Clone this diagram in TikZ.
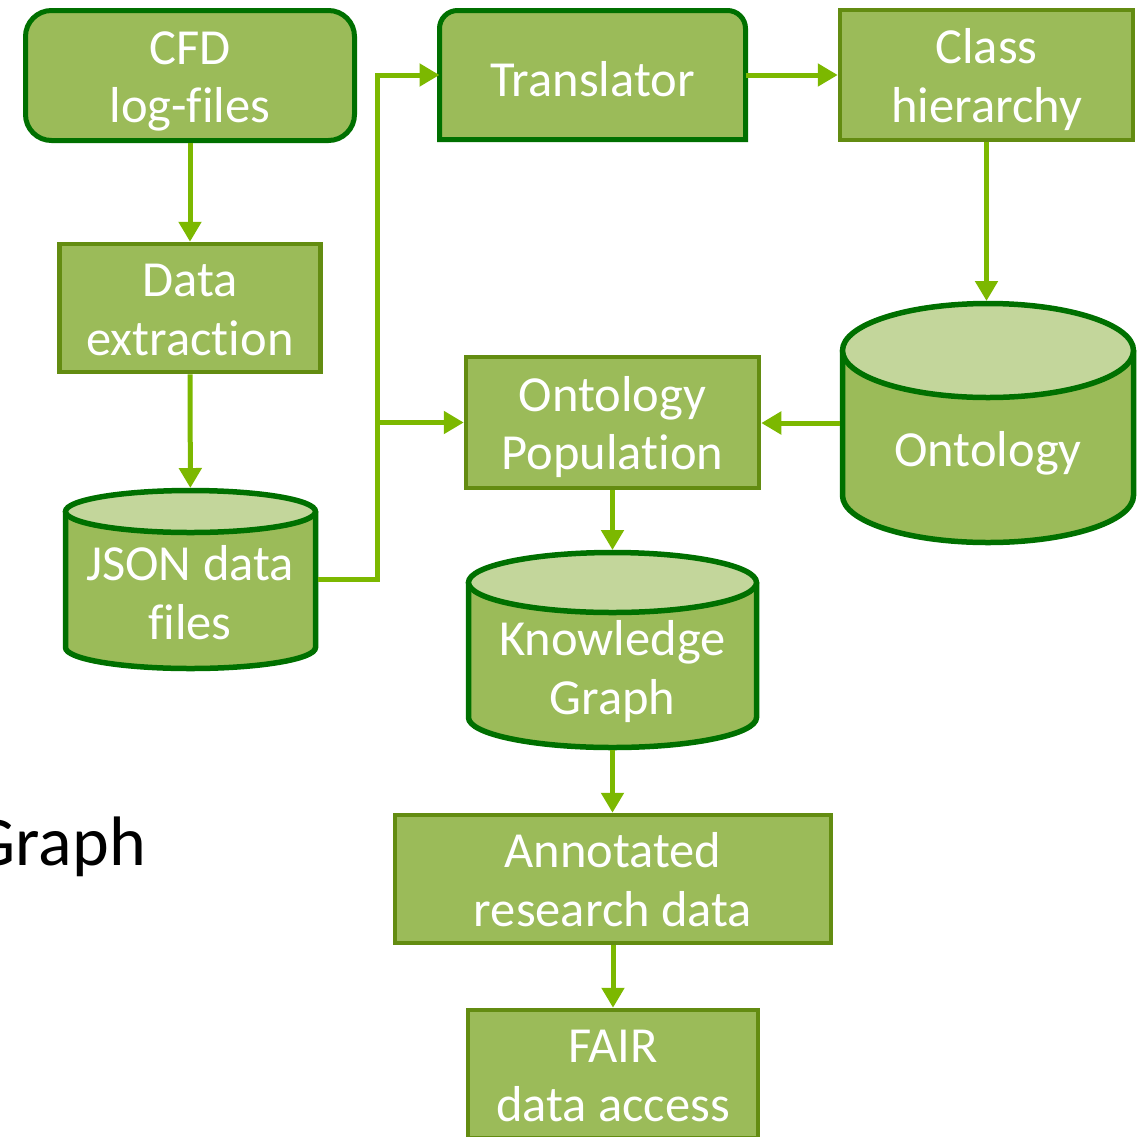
\documentclass[tikz,border=0pt]{standalone}
\usepackage{fontspec}
\setmainfont{Carlito}[Ligatures=NoCommon]
\usetikzlibrary{arrows.meta}

\definecolor{boxfill}{RGB}{155,187,89}
\definecolor{topfill}{RGB}{195,214,155}
\definecolor{rectline}{RGB}{99,140,17}
\definecolor{darkline}{RGB}{0,112,0}
\definecolor{arrowc}{RGB}{124,184,0}

\pgfdeclarelayer{background}
\pgfsetlayers{background,main}

\newcommand\bodyfont{\fontsize{50.5pt}{58.5pt}\selectfont}
% line strut: every text line gets the same height and depth
\newcommand\sx{\rule[-11.5pt]{0pt}{58.5pt}}

% cylinder store: name, centre x, top, bottom, x radius, y radius
\newcommand\drum[6]{%
  \path[fill=boxfill] ({#2-#5},{#3+#6}) -- ({#2-#5},{#4-#6})
    arc[start angle=180, end angle=360, x radius=#5pt, y radius=#6pt]
    -- ({#2+#5},{#3+#6}) -- cycle;
  \draw[drumline] ({#2-#5},{#3+#6}) -- ({#2-#5},{#4-#6})
    arc[start angle=180, end angle=360, x radius=#5pt, y radius=#6pt]
    -- ({#2+#5},{#3+#6});
  \draw[drumline, fill=topfill] (#2,{#3+#6}) ellipse [x radius=#5pt, y radius=#6pt];
  \node[drumbox, minimum width={2*#5pt}, minimum height={(#4-#3)*1pt}]
    (#1) at (#2,{(#3+#4)/2}) {};
}

\tikzset{
  box/.style={rectangle, fill=boxfill, draw=rectline, line width=4.5pt,
    text=white, align=center, font=\bodyfont, inner sep=0pt},
  roundbox/.style={box, draw=darkline, line width=5pt, rounded corners=26pt},
  drumline/.style={draw=darkline, line width=5.5pt},
  drumbox/.style={rectangle, draw=none, inner sep=0pt, outer sep=2.5pt},
  drumtext/.style={text=white, align=center, font=\bodyfont, inner sep=0pt},
  conn/.style={draw=arrowc, line width=5pt,
    -{Triangle[width=22pt,length=20pt]}},
}

\begin{document}
\begin{tikzpicture}[x=1pt, y=-1pt]
\useasboundingbox (0,0) rectangle (1143,1136);
\clip (0,0) rectangle (1143,1136);

% process boxes
\node[roundbox, minimum width=329pt, minimum height=130pt] (cfd) at (190,75.5)
  {\sx CFD\\\sx log-files};
\node[box, minimum width=261pt, minimum height=128pt] (ext) at (190,308)
  {\sx Data\\\sx extraction};
\node[box, draw=none, fill=none, minimum width=306pt, minimum height=129pt,
  outer sep=0pt] (tr) at (592.5,75) {\rule[-8pt]{0pt}{58.5pt}Translator};
\node[box, minimum width=293pt, minimum height=130pt] (cls) at (986.5,75)
  {\sx Class\\\sx hierarchy};
\node[box, minimum width=293pt, minimum height=131pt] (pop) at (612.5,422.5)
  {\sx Ontology\\\sx Population};
\node[box, minimum width=436pt, minimum height=128pt] (ann) at (613,879)
  {\sx Annotated\\\sx research data};
\node[box, minimum width=290pt, minimum height=128pt] (fair) at (613,1074)
  {\sx FAIR\\\sx data access};

% translator outline: rounded on top, square at the bottom
\begin{pgfonlayer}{background}
\draw[fill=boxfill, draw=darkline, line width=5pt]
  (tr.south west) [rounded corners=18pt] -- (tr.north west) -- (tr.north east)
  [sharp corners] -- (tr.south east) -- cycle;
\end{pgfonlayer}

% cylinder stores
\drum{json}{190.5}{490.5}{668.5}{125}{21}
\node[drumtext] (jsontext) at (190,592) {\sx JSON data\\\sx files};
\drum{onto}{988}{303.5}{542.5}{145.5}{47}
\node[drumtext] (ontotext) at (988,449) {\sx Ontology};
\drum{kg}{612.5}{552.5}{747.5}{144}{30}
\node[drumtext] (kgtext) at (612.5,667) {\sx Knowledge\\\sx Graph};

% caption running off the left edge
\node[anchor=base east, font=\fontsize{70pt}{80pt}\selectfont, inner sep=0pt]
  (cap) at (146,865) {Graph};

% connectors
\draw[conn] (cfd) -- (ext);
\draw[conn] (ext) -- (json);
\path (pop.west) ++(-86,0) coordinate (split);
\draw[conn] (json.east) -| (split) |- (tr.west);
\draw[conn] (split) -- (pop.west);
\draw[conn] (tr.east) -- (tr.east -| cls.west);
\draw[conn] (cls.south) -- (cls.south |- onto.north);
\draw[conn] (onto.west) -- (onto.west -| pop.east);
\draw[conn] (pop.south) -- (pop.south |- kg.north);
\draw[conn] (kg.south) -- (kg.south |- ann.north);
\draw[conn] (ann) -- (fair);
\end{tikzpicture}
\end{document}
